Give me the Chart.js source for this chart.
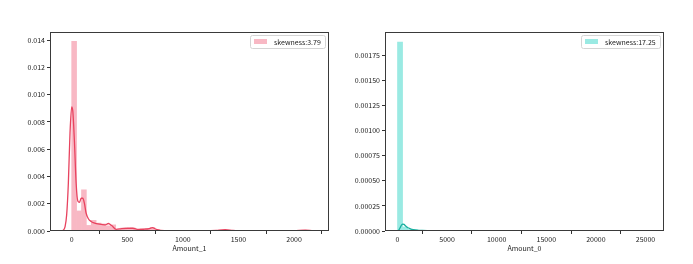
<!DOCTYPE html>
<html>
<head>
<meta charset="utf-8">
<script src="https://cdn.jsdelivr.net/npm/chart.js@4.4.0/dist/chart.umd.min.js"></script>
<style>
  html, body { margin: 0; padding: 0; background: #fff; }
  #wrap { position: relative; width: 693px; height: 264px; }
  canvas { position: absolute; top: 0; }
  #left { left: 0; }
  #right { left: 346px; }
</style>
</head>
<body>
<div id="wrap">
  <canvas id="left" width="346" height="264"></canvas>
  <canvas id="right" width="347" height="264"></canvas>
</div>
<script>
// Amount_1 : histogram (50 bins over 0..2200) + kde
const amount1BinRange = [0, 2200];
const amount1Hist = [
  0.0139, 0.00147, 0.00302, 0.00041, 0.00078, 0.00058, 0.00052, 0.00038, 0.00045, 0.00012,
  0.00022, 0.00020, 0.00022, 0.00012, 0.00015, 0.00018, 0.00025, 0.00008, 0.00004, 0.00002,
  0.00002, 0.00003, 0.00002, 0.00002, 0.00002, 0.00004, 0.00002, 0.00003, 0.00002, 0.00004,
  0.00008, 0.00005, 0.00002, 0.00001, 0.00001, 0.00002, 0.00001, 0.00001, 0.00000, 0.00001,
  0.00001, 0.00001, 0.00002, 0.00001, 0.00001, 0.00002, 0.00004, 0.00006, 0.00003, 0.00002
];
const amount1KdeX = [-81, -60, -45, -30, -15, 0, 10, 25, 40, 55, 70, 85, 100, 115, 130, 150, 175, 200, 250, 300,
  330, 360, 400, 450, 500, 550, 600, 650, 700, 725, 760, 800, 900, 1000, 1100, 1200, 1300, 1380, 1450, 1500,
  1600, 1800, 2000, 2100, 2160, 2200];
const amount1KdeY = [0, 0.0003, 0.0012, 0.0035, 0.0072, 0.0091, 0.0088, 0.0065, 0.0035, 0.0022, 0.0021, 0.0024, 0.0024, 0.0020, 0.0013, 0.0009, 0.0007, 0.0006, 0.0005, 0.00045,
  0.00055, 0.0004, 0.00012, 0.00018, 0.0002, 0.0002, 0.00012, 0.00013, 0.00018, 0.00025, 0.00012, 0.00005, 0.00003, 0.00002, 0.00003, 0.00002, 0.00004, 0.00009, 0.00004, 0.00002,
  0.00001, 0.00001, 0.00002, 0.00006, 0.00003, 0.00001];
const amount1XTicks = [0, 500, 1000, 1500, 2000];
const amount1YTicks = [0, 0.002, 0.004, 0.006, 0.008, 0.010, 0.012, 0.014];

// Amount_0 : histogram (50 bins over 0..25600) + kde
const amount0BinRange = [0, 25600];
const amount0Hist = [
  0.00188, 0.00004, 0.000015, 0.00001, 0.000006, 0.000004, 0.000003, 0.000002, 0.000002, 0.000001,
  0.000001, 0.000001, 0.000001, 0.000001, 0, 0.000001, 0, 0, 0.000001, 0,
  0, 0, 0, 0, 0, 0, 0, 0, 0, 0,
  0, 0, 0, 0, 0, 0, 0, 0, 0, 0,
  0, 0, 0, 0, 0, 0, 0, 0, 0, 0.000001
];
const amount0KdeX = [0, 100, 250, 400, 550, 650, 800, 1000, 1300, 1600, 2000, 2500, 3000, 4000, 5000, 7000, 10000, 15000, 20000, 25586];
const amount0KdeY = [0, 0.000005, 0.00003, 0.000058, 0.000068, 0.000066, 0.000052, 0.000035, 0.000022, 0.000014, 0.000008, 0.000005, 0.000003, 0.000002, 0.0000015, 0.000001, 0.0000008, 0.0000005, 0.0000004, 0.0000002];
const amount0XTicks = [0, 5000, 10000, 15000, 20000, 25000];
const amount0YTicks = [0, 0.00025, 0.0005, 0.00075, 0.001, 0.00125, 0.0015, 0.00175];

const FONT = "'Noto Sans CJK JP', 'DejaVu Sans', sans-serif";
Chart.defaults.font.family = FONT;
Chart.defaults.font.size = 7;
Chart.defaults.color = '#222';

// box around the plot + matplotlib-style legend in the upper right corner
const framePlugin = {
  id: 'frame',
  afterDraw(chart) {
    const ctx = chart.ctx;
    const a = chart.chartArea;
    ctx.save();

    const ds = chart.data.datasets[1];
    ctx.font = '7px ' + FONT;
    const tw = ctx.measureText(ds.label).width;
    const boxW = 4 + 13 + 7 + tw + 4;
    const boxR = Math.round(a.right) - 4;
    const boxL = boxR - Math.round(boxW);
    const boxT = Math.round(a.top) + 3;
    const boxH = 13;
    ctx.fillStyle = 'rgba(255,255,255,0.8)';
    ctx.strokeStyle = '#d4d4d4';
    ctx.lineWidth = 1;
    ctx.beginPath();
    ctx.roundRect(boxL + 0.5, boxT + 0.5, boxR - boxL, boxH, 2);
    ctx.fill();
    ctx.stroke();
    ctx.fillStyle = ds.backgroundColor;
    ctx.fillRect(boxL + 4, boxT + 4, 13, 5);
    ctx.fillStyle = '#222';
    ctx.textBaseline = 'middle';
    ctx.textAlign = 'left';
    ctx.fillText(ds.label, boxL + 4 + 13 + 7, boxT + 7);

    ctx.strokeStyle = '#3a3a3a';
    ctx.lineWidth = 1;
    ctx.strokeRect(Math.round(a.left) + 0.5, Math.round(a.top) + 0.5, Math.round(a.right - a.left) - 1, Math.round(a.bottom - a.top) - 1);
    ctx.restore();
  }
};

function histPoints(range, heights) {
  const w = (range[1] - range[0]) / heights.length;
  return heights.map((h, i) => ({ x: range[0] + w * (i + 0.5), y: h }));
}

function makeChart(id, opt) {
  const ctx = document.getElementById(id);
  return new Chart(ctx, {
    type: 'bar',
    data: {
      datasets: [
        {
          type: 'line',
          label: 'kde',
          data: opt.kdeX.map((x, i) => ({ x: x, y: opt.kdeY[i] })),
          borderColor: opt.lineColor,
          borderWidth: 1.3,
          pointRadius: 0,
          fill: false,
          cubicInterpolationMode: 'monotone',
          order: 0
        },
        {
          label: opt.label,
          data: histPoints(opt.binRange, opt.hist),
          backgroundColor: opt.barColor,
          borderWidth: 0,
          barPercentage: 1,
          categoryPercentage: 1,
          order: 1
        }
      ]
    },
    options: {
      responsive: false,
      animation: false,
      layout: { padding: { top: 32, right: opt.padRight, bottom: 0, left: 0 } },
      plugins: {
        tooltip: { enabled: false },
        legend: { display: false }
      },
      scales: {
        x: {
          type: 'linear',
          min: opt.xMin,
          max: opt.xMax,
          offset: false,
          afterFit: s => { s.height = 33; },
          afterBuildTicks: s => { s.ticks = opt.xTicks.map(v => ({ value: v })); },
          grid: { display: true, drawOnChartArea: false, tickLength: 3, color: '#333' },
          border: { display: false },
          ticks: { padding: 1, maxRotation: 0, autoSkip: false, callback: v => String(v) },
          title: { display: true, text: opt.xTitle, padding: { top: 0, bottom: 11 }, font: { size: 7 } }
        },
        y: {
          min: 0,
          max: opt.yMax,
          afterFit: s => { s.width = opt.yWidth; },
          afterBuildTicks: s => { s.ticks = opt.yTicks.map(v => ({ value: v })); },
          grid: { display: true, drawOnChartArea: false, tickLength: 3, color: '#333' },
          border: { display: false },
          ticks: { padding: 2, autoSkip: false, callback: v => v.toFixed(opt.decimals) }
        }
      }
    },
    plugins: [framePlugin]
  });
}

makeChart('left', {
  label: 'skewness:3.79',
  xTitle: 'Amount_1',
  binRange: amount1BinRange, hist: amount1Hist,
  kdeX: amount1KdeX, kdeY: amount1KdeY,
  xTicks: amount1XTicks, yTicks: amount1YTicks,
  xMin: -195, xMax: 2314, yMax: 0.01459, decimals: 3,
  yWidth: 50, padRight: 17,
  barColor: '#f8b8c4', lineColor: '#e8435f'
});

makeChart('right', {
  label: 'skewness:17.25',
  xTitle: 'Amount_0',
  binRange: amount0BinRange, hist: amount0Hist,
  kdeX: amount0KdeX, kdeY: amount0KdeY,
  xTicks: amount0XTicks, yTicks: amount0YTicks,
  xMin: -1260, xMax: 26865, yMax: 0.001979, decimals: 5,
  yWidth: 39, padRight: 29,
  barColor: '#9aeae3', lineColor: '#1aaf9f'
});
</script>
</body>
</html>
